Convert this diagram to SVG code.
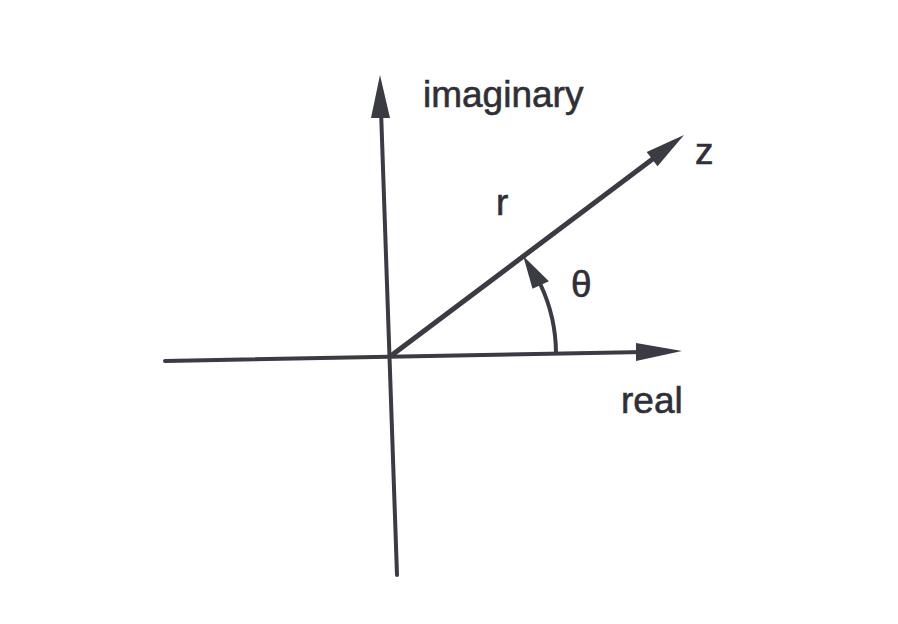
<svg xmlns="http://www.w3.org/2000/svg" width="898" height="624" viewBox="0 0 898 624">
<style>
.ax{stroke:#3a3b43;stroke-width:4;fill:none;stroke-linecap:round}
.ah{fill:#3a3b43;stroke:none}
.lb{font-family:"Liberation Sans",Arial,sans-serif;font-size:37px;fill:#2f3037;stroke:#2f3037;stroke-width:0.6}
</style>
<rect width="898" height="624" fill="#ffffff"/>
<g id="connectors">
<line class="ax" x1="165" y1="361" x2="645" y2="352"/>
<polygon class="ah" points="682,351 636,343 636,361"/>
<line class="ax" x1="397" y1="575" x2="381" y2="110"/>
<polygon class="ah" points="380,75 371,118 390,118"/>
<line class="ax" style="stroke-width:5" x1="392" y1="355" x2="658" y2="155"/>
<polygon class="ah" points="684,135 646.7,151.9 657.5,166.3"/>
<path class="ax" d="M556,353 A163,163 0 0 0 540.7,285"/>
<polygon class="ah" points="523.2,255.9 532.5,288.8 548.9,281.2"/>
</g>
<g id="labels">
<text class="lb" x="423" y="107">imaginary</text>
<text class="lb" x="695" y="164">z</text>
<text class="lb" x="496" y="215">r</text>
<text class="lb" x="571" y="297">θ</text>
<text class="lb" x="621" y="413">real</text>
</g>
</svg>
